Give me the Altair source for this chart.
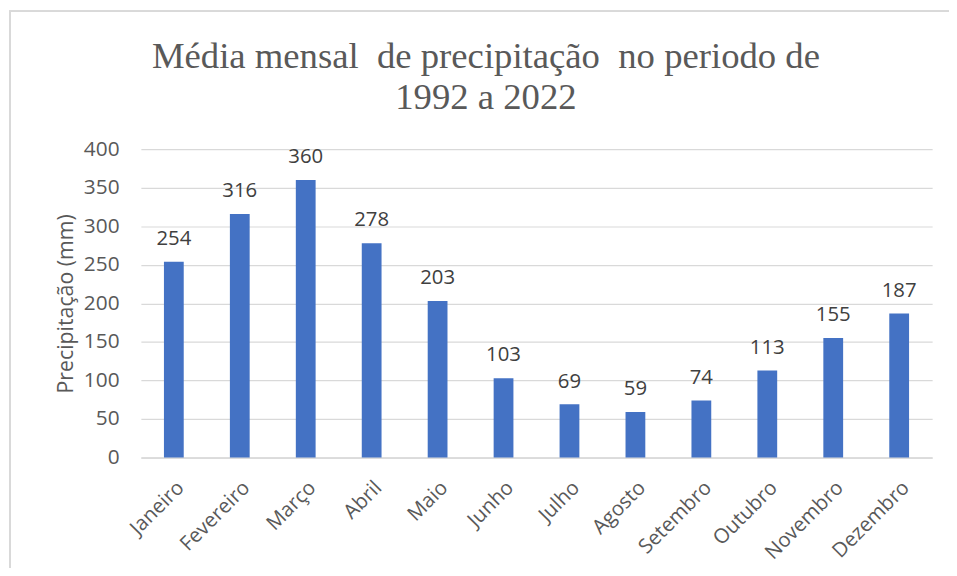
import altair as alt
import pandas as pd

meses = ["Janeiro", "Fevereiro", "Março", "Abril", "Maio", "Junho",
         "Julho", "Agosto", "Setembro", "Outubro", "Novembro", "Dezembro"]
precipitacao = [254, 316, 360, 278, 203, 103, 69, 59, 74, 113, 155, 187]
y_ticks = [0, 50, 100, 150, 200, 250, 300, 350, 400]

df = pd.DataFrame({"mes": meses, "valor": precipitacao})

titulo = ["Média mensal\u00a0 de precipitação\u00a0 no periodo de", "1992 a 2022"]

W, H = 798, 311
PL, PT = 134, 140

base = alt.Chart(df).encode(
    x=alt.X("mes:N", sort=meses,
            scale=alt.Scale(paddingInner=0.7, paddingOuter=0.35),
            axis=alt.Axis(title=None, labelAngle=-45, labelAlign="right",
                          labelBaseline="top", labelPadding=20, ticks=False,
                          domain=True, domainColor="#D9D9D9", domainWidth=1.5,
                          labelFont="Open Sans", labelFontSize=20.5,
                          labelColor="#595959")),
    y=alt.Y("valor:Q", scale=alt.Scale(domain=[0, 400], nice=False),
            axis=alt.Axis(title="Precipitação (mm)", values=y_ticks,
                          ticks=False, domain=False, grid=True,
                          gridColor="#D9D9D9", gridWidth=1.2,
                          labelFont="Open Sans", labelFontSize=21,
                          labelColor="#595959", labelPadding=22,
                          titleFont="Open Sans", titleFontSize=21.5,
                          titleFontWeight="normal", titleColor="#595959",
                          titlePadding=6)),
)

bars = base.mark_bar(color="#4472C4")
labels = base.mark_text(baseline="bottom", dy=-13, font="Open Sans",
                        fontSize=20.5, color="#404040").encode(text="valor:Q")

frame = alt.Chart(df).mark_rect(fill=None, stroke="#D9D9D9", strokeWidth=1.5).encode(
    x=alt.value(-132), x2=alt.value(1100), y=alt.value(-139), y2=alt.value(600)
)

title_df = pd.DataFrame({"t": [titulo]})
title_mark = alt.Chart(title_df).mark_text(
    font="Times New Roman", fontSize=37, fontWeight=400, color="#595959",
    baseline="alphabetic", align="center", lineHeight=41, opacity=1
).encode(x=alt.value(348), y=alt.value(-82), text="t")

chart = alt.layer(frame, bars, labels, title_mark).properties(
    width=W, height=H,
    autosize=alt.AutoSizeParams(type="none"),
    padding={"left": PL, "top": PT, "right": 949 - PL - W, "bottom": 560 - PT - H},
).configure_view(stroke=None)

chart.save("out.html", embed_options={"renderer": "svg", "actions": False})
